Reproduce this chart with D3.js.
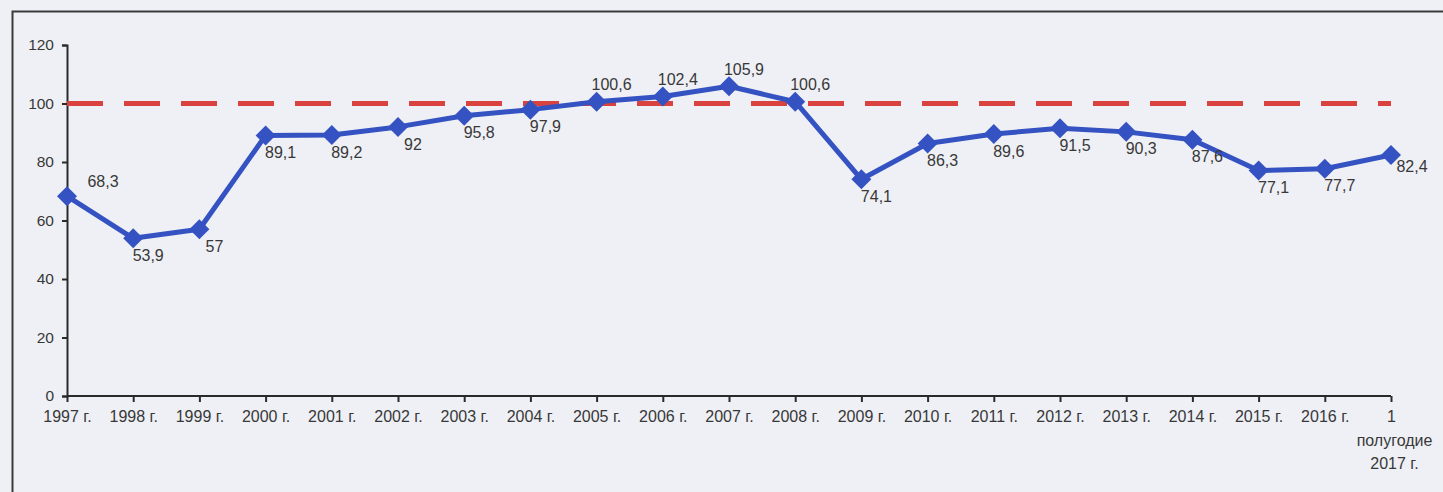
<!DOCTYPE html>
<html><head><meta charset="utf-8">
<script src="https://cdn.jsdelivr.net/npm/d3@7"></script>
<style>
html,body{margin:0;padding:0;background:#eef0f5;}
svg{display:block;font-family:"Liberation Sans",Arial,Helvetica,sans-serif;}
</style></head>
<body>
<svg id="chart" width="1443" height="492"></svg>
<script>
const categories = ["1997 г.","1998 г.","1999 г.","2000 г.","2001 г.","2002 г.","2003 г.","2004 г.","2005 г.","2006 г.","2007 г.","2008 г.","2009 г.","2010 г.","2011 г.","2012 г.","2013 г.","2014 г.","2015 г.","2016 г.","1 полугодие 2017 г."];
const values = [68.3,53.9,57,89.1,89.2,92,95.8,97.9,100.6,102.4,105.9,100.6,74.1,86.3,89.6,91.5,90.3,87.6,77.1,77.7,82.4];
const labelPlacement = ["aboveRight","below","below","below","below","below","below","below","above","above","above","above","below","below","below","below","below","below","below","below","right"];
const yTicks = [0,20,40,60,80,100,120];
const referenceValue = 100;

const svg = d3.select("#chart");
const W = 1443, H = 492;
svg.append("rect").attr("width",W).attr("height",H).attr("fill","#eef0f5");
// frame
svg.append("path").attr("d","M12.5,492 L12.5,11.5 L1443,11.5").attr("fill","none").attr("stroke","#3a3a3a").attr("stroke-width",2);

const x = d3.scalePoint().domain(categories).range([67,1391]);
const y = d3.scaleLinear().domain([0,120]).range([396,45]);

const textColor = "#383838";
// y axis
const yAxis = svg.append("g").attr("transform","translate(67,0)")
  .call(d3.axisLeft(y).tickValues(yTicks).tickSize(5).tickPadding(8).tickFormat(d3.format("d")));
yAxis.attr("font-size",null).attr("font-family",null);
yAxis.select(".domain").attr("stroke","#2a2a2a").attr("stroke-width",2);
yAxis.selectAll(".tick line").attr("stroke","#2a2a2a").attr("stroke-width",2);
yAxis.selectAll("text").attr("fill",textColor).style("font-size","15.5px");

// x axis
const xAxis = svg.append("g").attr("transform","translate(0,396)")
  .call(d3.axisBottom(x).tickSize(6).tickSizeOuter(0).tickPadding(9));
xAxis.attr("font-size",null).attr("font-family",null);
xAxis.select(".domain").attr("stroke","#2a2a2a").attr("stroke-width",2).attr("d","M67,0H1391");
xAxis.selectAll(".tick line").attr("stroke","#2a2a2a").attr("stroke-width",2);
xAxis.selectAll(".tick text").attr("fill",textColor).style("font-size","16px")
  .each(function(d){
    const t = d3.select(this);
    if (d.startsWith("1 полугодие")) {
      t.text(null);
      const parts = ["1","полугодие","2017 г."];
      parts.forEach((p,i)=>{
        t.append("tspan").attr("x", i===0?0:3).attr("dy", i===0?"0.71em":"1.45em").text(p);
      });
    }
  });

// reference dashed line
svg.append("line")
  .attr("x1",x(categories[0])).attr("x2",x(categories[categories.length-1]))
  .attr("y1",y(referenceValue)).attr("y2",y(referenceValue))
  .attr("stroke","#d9423f").attr("stroke-width",5).attr("stroke-dasharray","36,21");

const data = categories.map((c,i)=>({c, v: values[i], p: labelPlacement[i]}));
const blue = "#3552c2";
svg.append("path").datum(data)
  .attr("fill","none").attr("stroke",blue).attr("stroke-width",5).attr("stroke-linejoin","round")
  .attr("d", d3.line().x(d=>x(d.c)).y(d=>y(d.v)));

svg.selectAll(".marker").data(data).enter().append("path")
  .attr("class","marker")
  .attr("d", d3.symbol().type(d3.symbolSquare).size(200)())
  .attr("transform", d=>`translate(${x(d.c)},${y(d.v)}) rotate(45)`)
  .attr("fill",blue);

const fmt = v => String(v).replace(".",",");
const off = {above:[15,-17], below:[15,17], aboveRight:[36,-15], right:[21,11]};
svg.selectAll(".lbl").data(data).enter().append("text")
  .attr("class","lbl")
  .attr("x", d=>x(d.c)+off[d.p][0])
  .attr("y", d=>y(d.v)+off[d.p][1])
  .attr("dy","0.35em")
  .attr("text-anchor","middle")
  .attr("fill",textColor).style("font-size","16px")
  .text(d=>fmt(d.v));
</script>
</body></html>
